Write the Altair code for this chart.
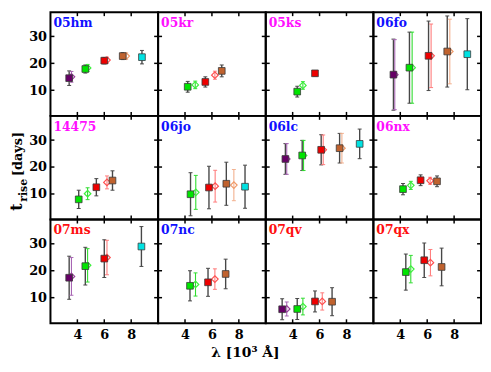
import altair as alt
import pandas as pd

# ---------------- data ----------------
SN_ORDER = ["05hm", "05kr", "05ks", "06fo",
            "14475", "06jo", "06lc", "06nx",
            "07ms", "07nc", "07qv", "07qx"]
SN_LABEL_CLASS = ["b", "m", "m", "b", "m", "b", "b", "m", "r", "b", "r", "r"]

X_TICKS = [4, 6, 8]
Y_TICKS = [10, 20, 30]

BAND = {
    "05hm": ["sq_u", "dm_u", "sq_g", "dm_g", "sq_r", "dm_r", "sq_i", "dm_i", "sq_z"],
    "05kr": ["sq_g", "dm_g", "sq_r", "dm_r", "sq_i"],
    "05ks": ["sq_g", "dm_g", "sq_r"],
    "06fo": ["sq_u", "dm_u", "sq_g", "dm_g", "sq_r", "dm_r", "sq_i", "dm_i", "sq_z"],
    "14475": ["sq_g", "dm_g", "sq_r", "dm_r", "sq_i"],
    "06jo": ["sq_g", "dm_g", "sq_r", "dm_r", "sq_i", "dm_i", "sq_z"],
    "06lc": ["sq_u", "dm_u", "sq_g", "dm_g", "sq_r", "dm_r", "sq_i", "dm_i", "sq_z"],
    "06nx": ["sq_g", "dm_g", "sq_r", "dm_r", "sq_i"],
    "07ms": ["sq_u", "dm_u", "sq_g", "dm_g", "sq_r", "dm_r", "sq_z"],
    "07nc": ["sq_g", "dm_g", "sq_r", "dm_r", "sq_i"],
    "07qv": ["sq_u", "dm_u", "sq_g", "dm_g", "sq_r", "dm_r", "sq_i"],
    "07qx": ["sq_g", "dm_g", "sq_r", "dm_r", "sq_i"],
}
LAMBDA = {
    "05hm": [3.39, 3.56, 4.59, 4.76, 6.00, 6.20, 7.37, 7.63, 8.80],
    "05kr": [4.20, 4.76, 5.51, 6.22, 6.73],
    "05ks": [4.34, 4.76, 5.66],
    "06fo": [3.49, 3.59, 4.68, 4.88, 6.10, 6.29, 7.49, 7.68, 8.98],
    "14475": [4.10, 4.76, 5.41, 6.20, 6.61],
    "06jo": [4.41, 4.80, 5.78, 6.24, 7.07, 7.63, 8.46],
    "06lc": [3.46, 3.56, 4.71, 4.81, 6.12, 6.27, 7.49, 7.66, 8.98],
    "06nx": [4.20, 4.78, 5.51, 6.22, 6.73],
    "07ms": [3.39, 3.56, 4.59, 4.76, 6.00, 6.20, 8.76],
    "07nc": [4.37, 4.78, 5.71, 6.22, 7.02],
    "07qv": [3.22, 3.56, 4.34, 4.76, 5.66, 6.20, 6.93],
    "07qx": [4.41, 4.78, 5.78, 6.24, 7.07],
}
T_RISE = {
    "05hm": [14.5, 15.0, 17.9, 18.3, 21.0, 21.2, 22.7, 22.7, 22.3],
    "05kr": [11.3, 12.0, 13.1, 15.6, 17.2],
    "05ks": [9.5, 11.8, 16.3],
    "06fo": [15.8, 15.8, 18.4, 18.4, 22.8, 22.8, 24.4, 24.4, 23.4],
    "14475": [8.0, 10.1, 12.5, 14.3, 15.0],
    "06jo": [9.9, 10.6, 12.4, 12.9, 13.8, 13.3, 12.7],
    "06lc": [23.0, 23.0, 24.3, 24.3, 26.4, 26.4, 27.0, 27.0, 28.6],
    "06nx": [11.8, 13.2, 15.1, 14.9, 14.7],
    "07ms": [17.4, 17.9, 21.7, 22.0, 24.5, 24.9, 29.0],
    "07nc": [14.4, 14.9, 15.7, 16.9, 18.8],
    "07qv": [5.7, 5.8, 5.8, 6.7, 8.6, 8.6, 8.5],
    "07qx": [19.5, 20.6, 23.9, 23.0, 21.4],
}
T_ERR = {
    "05hm": [2.7, 2.0, 1.5, 1.3, 1.2, 1.1, 1.3, 1.2, 2.5],
    "05kr": [2.0, 1.4, 1.9, 1.5, 2.2],
    "05ks": [2.0, 1.4, 1.0],
    "06fo": [13.2, 13.0, 13.2, 13.2, 12.9, 11.8, 13.2, 12.0, 13.2],
    "14475": [3.4, 2.2, 3.2, 2.4, 3.6],
    "06jo": [8.0, 6.3, 7.9, 5.9, 8.0, 5.8, 8.0],
    "06lc": [5.7, 5.7, 5.6, 5.6, 5.6, 5.5, 5.5, 5.5, 5.5],
    "06nx": [2.1, 1.5, 2.0, 1.3, 2.0],
    "07ms": [8.0, 7.0, 7.0, 6.2, 7.0, 6.4, 7.4],
    "07nc": [5.6, 4.3, 5.2, 3.8, 5.5],
    "07qv": [3.9, 2.6, 3.9, 3.1, 3.9, 3.2, 5.2],
    "07qx": [6.7, 5.1, 6.4, 4.9, 7.0],
}
X_TITLE = "λ [10³ Å]"
Y_TITLE_PARTS = ["t", "rise", "[days]"]

# ---------------- styles ----------------
FONT = "DejaVu Serif"
W, H = 109, 105
XDOM = [2, 10]
YDOM = [0.5, 39]
LABEL_COLOR = {"b": "#1010ff", "m": "#ff10ff", "r": "#ff1010"}
SQ_KEYS = ["sq_u", "sq_g", "sq_r", "sq_i", "sq_z"]
SQ_COLORS = ["#660066", "#00e400", "#ee0000", "#c0622e", "#00e2e2"]
DM_KEYS = ["dm_u", "dm_g", "dm_r", "dm_i"]
DM_COLORS = ["#96409a", "#3cf03c", "#ff5050", "#f09a68"]
DM_ERR_COLORS = ["#a866b4", "#30dc30", "#ff7c7c", "#f2b08e"]

rows = []
for sn in SN_ORDER:
    for b, l, t, e in zip(BAND[sn], LAMBDA[sn], T_RISE[sn], T_ERR[sn]):
        rows.append({"sn": sn, "band": b, "kind": b[:2], "lam": l,
                     "trise": t, "lo": t - e, "hi": t + e})
df = pd.DataFrame(rows)

xt = pd.DataFrame({"lam": X_TICKS})
yt = pd.DataFrame({"trise": Y_TICKS})


def panel(idx, sn):
    r, c = divmod(idx, 4)
    d = df[df.sn == sn]
    sq = d[d.kind == "sq"]
    dm = d[d.kind == "dm"]
    xs = alt.Scale(domain=XDOM, nice=False, zero=False)
    ys = alt.Scale(domain=YDOM, nice=False, zero=False)
    if r == 2:
        xax = alt.Axis(values=X_TICKS, ticks=False, domain=False, grid=False,
                       labelPadding=5, title=None)
    else:
        xax = None
    if c == 0:
        yax = alt.Axis(values=Y_TICKS, ticks=False, domain=False, grid=False,
                       labelPadding=4, title=None)
    else:
        yax = None

    def X(f):
        return alt.X(f"{f}:Q", scale=xs, axis=xax)

    def Y(f):
        return alt.Y(f"{f}:Q", scale=ys, axis=yax)

    dm_err_color = alt.Color("band:N", scale=alt.Scale(domain=DM_KEYS, range=DM_ERR_COLORS), legend=None)

    eb_sq = alt.Chart(sq).mark_rule(color="#474747", strokeWidth=1.4).encode(
        x=X("lam"), y=Y("lo"), y2="hi")
    cap_sq_lo = alt.Chart(sq).mark_tick(orient="horizontal", size=4, thickness=1, color="#474747", opacity=1).encode(
        x=X("lam"), y=Y("lo"))
    cap_sq_hi = alt.Chart(sq).mark_tick(orient="horizontal", size=4, thickness=1, color="#474747", opacity=1).encode(
        x=X("lam"), y=Y("hi"))
    eb_dm = alt.Chart(dm).mark_rule(strokeWidth=1.1).encode(
        x=X("lam"), y=Y("lo"), y2="hi", color=dm_err_color)
    cap_dm_lo = alt.Chart(dm).mark_tick(orient="horizontal", size=4, thickness=1, opacity=1).encode(
        x=X("lam"), y=Y("lo"), color=dm_err_color)
    cap_dm_hi = alt.Chart(dm).mark_tick(orient="horizontal", size=4, thickness=1, opacity=1).encode(
        x=X("lam"), y=Y("hi"), color=dm_err_color)
    dms = alt.Chart(dm).mark_point(shape="diamond", filled=False, size=44, strokeWidth=1.2, opacity=1).encode(
        x=X("lam"), y=Y("trise"),
        stroke=alt.Stroke("band:N", scale=alt.Scale(domain=DM_KEYS, range=DM_COLORS), legend=None))
    sqs = alt.Chart(sq).mark_square(size=46, stroke="#3a3a3a", strokeWidth=0.8, opacity=1).encode(
        x=X("lam"), y=Y("trise"),
        fill=alt.Fill("band:N", scale=alt.Scale(domain=SQ_KEYS, range=SQ_COLORS), legend=None))

    tk = dict(color="black", strokeWidth=1.5)
    t_top = alt.Chart(xt).mark_rule(**tk).encode(x=X("lam"), y=alt.value(0), y2=alt.value(4))
    t_bot = alt.Chart(xt).mark_rule(**tk).encode(x=X("lam"), y=alt.value(H), y2=alt.value(H - 4))
    t_left = alt.Chart(yt).mark_rule(**tk).encode(y=Y("trise"), x=alt.value(0), x2=alt.value(4))
    t_right = alt.Chart(yt).mark_rule(**tk).encode(y=Y("trise"), x=alt.value(W), x2=alt.value(W - 4))

    lab = alt.Chart(pd.DataFrame({"sn": [sn]})).mark_text(
        align="left", baseline="alphabetic", font=FONT, fontWeight="bold", fontSize=12.5,
        color=LABEL_COLOR[SN_LABEL_CLASS[idx]]).encode(
        text="sn:N", x=alt.value(3), y=alt.value(15))

    layers = [t_top, t_bot, t_left, t_right, eb_sq, cap_sq_lo, cap_sq_hi,
              eb_dm, cap_dm_lo, cap_dm_hi, dms, sqs, lab]

    if c == 0 and r == 1:
        parts = pd.DataFrame({"p": Y_TITLE_PARTS})
        specs = [(0, 16, -29, 96), (1, 11, -24, 87), (2, 13, -29, 61)]
        for i, fs, xx, yy in specs:
            layers.append(
                alt.Chart(parts.iloc[[i]]).mark_text(
                    align="left", baseline="alphabetic", angle=270, font=FONT,
                    fontWeight="bold", fontSize=fs, color="black").encode(
                    text="p:N", x=alt.value(xx), y=alt.value(yy)))

    return alt.layer(*layers).properties(width=W, height=H)


chart = alt.concat(*[panel(i, sn) for i, sn in enumerate(SN_ORDER)],
                   columns=4, spacing=0, bounds="flush").properties(
    padding=0,
    title=alt.TitleParams(X_TITLE, orient="bottom", anchor="middle", font=FONT,
                          fontSize=14, fontWeight="bold", offset=4, color="black"),
).configure_view(stroke="black", strokeWidth=2).configure_axis(
    labelFont=FONT, labelFontWeight="bold", labelFontSize=13, labelColor="black")

chart.save("out.html", embed_options={"renderer": "svg", "actions": False})
